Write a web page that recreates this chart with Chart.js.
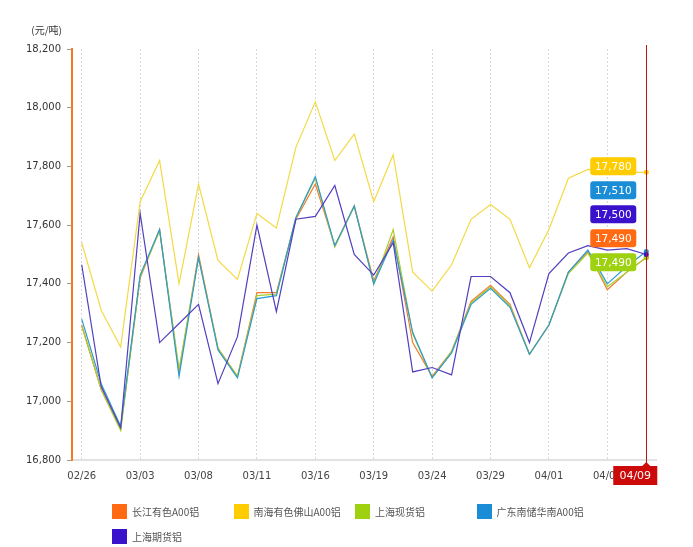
<!DOCTYPE html>
<html>
<head>
<meta charset="utf-8">
<script src="https://cdn.jsdelivr.net/npm/chart.js@4/dist/chart.umd.min.js"></script>
<style>
  body { margin: 0; background: #fff; }
  #wrap { position: relative; width: 693px; height: 547px; }
  #legend { position: absolute; left: 112px; top: 499px; width: 500px; font-family: "Noto Sans CJK SC", sans-serif; font-size: 10px; color: #555; }
  #legend .item { display: inline-flex; align-items: center; width: 121.5px; height: 25px; vertical-align: top; }
  #legend .box { width: 15px; height: 15px; margin-right: 5px; }
</style>
</head>
<body>
<div id="wrap">
  <canvas id="myChart"></canvas>
  <div id="legend"></div>
</div>
<script>
const dates = ['02/26', '02/27', '02/28', '03/03', '03/04', '03/06', '03/08', '03/09', '03/10', '03/11',
               '03/12', '03/14', '03/16', '03/17', '03/18', '03/19', '03/20', '03/22', '03/24', '03/25',
               '03/27', '03/29', '03/30', '03/31', '04/01', '04/02', '04/04', '04/06', '04/08', '04/09'];

const changjiang = [17260, 17040, 16905, 17420, 17585, 17100, 17500, 17180, 17085, 17370,
                    17370, 17620, 17740, 17530, 17665, 17410, 17560, 17200, 17085, 17170,
                    17340, 17395, 17330, 17160, 17260, 17440, 17510, 17380, 17440, 17490];
const nanhai = [17540, 17310, 17185, 17680, 17820, 17400, 17740, 17480, 17415, 17640,
                17590, 17865, 18020, 17820, 17910, 17680, 17840, 17440, 17375, 17465,
                17620, 17670, 17620, 17455, 17585, 17760, 17790, 17780, 17780, 17780];
const shSpot = [17255, 17040, 16900, 17425, 17580, 17110, 17490, 17180, 17085, 17360,
                17365, 17625, 17760, 17525, 17665, 17400, 17585, 17230, 17080, 17170,
                17335, 17390, 17325, 17160, 17260, 17435, 17505, 17390, 17440, 17490];
const guangdong = [17280, 17060, 16915, 17430, 17585, 17085, 17490, 17175, 17080, 17350,
                   17360, 17625, 17765, 17530, 17665, 17400, 17550, 17235, 17080, 17165,
                   17330, 17385, 17320, 17160, 17260, 17440, 17515, 17400, 17460, 17510];
const shFutures = [17465, 17050, 16910, 17640, 17200, 17265, 17330, 17060, 17220, 17600,
                   17305, 17620, 17630, 17735, 17500, 17430, 17540, 17100, 17115, 17090,
                   17425, 17425, 17370, 17200, 17435, 17505, 17530, 17515, 17520, 17500];

const seriesNames = ['长江有色A00铝', '南海有色佛山A00铝', '上海现货铝', '广东南储华南A00铝', '上海期货铝'];
const yTicks = [16800, 17000, 17200, 17400, 17600, 17800, 18000, 18200];

const colors = ['#FF6A13', '#FFCC00', '#9ED10F', '#1A8DD6', '#3A12CC'];
const lineColors = ['#F47A30', '#F3DA45', '#A8D030', '#2E9BD0', '#5040C0'];
const allData = [changjiang, nanhai, shSpot, guangdong, shFutures];
const drawOrder = [4, 5, 3, 2, 1];
const last = dates.length - 1;

const datasets = seriesNames.map((name, i) => ({
    label: name,
    data: allData[i],
    borderColor: lineColors[i],
    backgroundColor: colors[i],
    borderWidth: 1.2,
    tension: 0,
    order: drawOrder[i],
    pointRadius: ctx => ctx.dataIndex === last ? 2.5 : 0,
    pointBorderWidth: 0,
    pointBackgroundColor: colors[i]
}));

function roundRect(ctx, x, y, w, h, r) {
    ctx.beginPath();
    ctx.moveTo(x + r, y);
    ctx.arcTo(x + w, y, x + w, y + h, r);
    ctx.arcTo(x + w, y + h, x, y + h, r);
    ctx.arcTo(x, y + h, x, y, r);
    ctx.arcTo(x, y, x + w, y, r);
    ctx.closePath();
}

const overlay = {
    id: 'overlay',
    afterDraw(chart) {
        const ctx = chart.ctx;
        const area = chart.chartArea;
        const xs = chart.scales.x, ys = chart.scales.y;
        const px = xs.getPixelForValue(last);

        // unit
        ctx.save();
        ctx.font = '10px "Noto Sans CJK SC"';
        ctx.fillStyle = '#333';
        ctx.textAlign = 'right';
        ctx.textBaseline = 'middle';
        ctx.fillText('(元/吨)', 62, 30);

        // crosshair line
        ctx.strokeStyle = '#B81414';
        ctx.lineWidth = 1;
        ctx.beginPath();
        ctx.moveTo(Math.round(px) + 0.5, area.top - 4);
        ctx.lineTo(Math.round(px) + 0.5, area.bottom + 3);
        ctx.stroke();

        // date box
        const bx = px - 33, by = area.bottom + 6, bw = 44, bh = 19;
        ctx.fillStyle = '#CC0A0A';
        ctx.fillRect(bx, by, bw, bh);
        ctx.beginPath();
        ctx.moveTo(px - 4, by);
        ctx.lineTo(px, by - 4);
        ctx.lineTo(px + 4, by);
        ctx.fill();
        ctx.fillStyle = '#fff';
        ctx.font = '11px "DejaVu Sans"';
        ctx.textAlign = 'center';
        ctx.fillText(dates[last], bx + bw / 2, by + bh / 2 + 1);

        // value labels
        const items = allData.map((d, i) => ({ v: d[last], i }))
            .sort((a, b) => b.v - a.v || a.i - b.i);
        const top = ys.getPixelForValue(items[0].v) - 6;
        ctx.font = '10.5px "DejaVu Sans"';
        items.forEach((it, k) => {
            const cy = top + k * 24;
            ctx.fillStyle = colors[it.i];
            roundRect(ctx, px - 56, cy - 9, 46, 18, 3);
            ctx.fill();
            ctx.fillStyle = '#fff';
            ctx.fillText(it.v.toLocaleString('en-US'), px - 33, cy + 1);
        });
        ctx.restore();
    }
};

const ctx1 = document.getElementById('myChart').getContext('2d');
const myChart = new Chart(ctx1, {
    type: 'line',
    data: {
        labels: dates,
        datasets: datasets
    },
    options: {
        responsive: true,
        maintainAspectRatio: false,
        animation: false,
        layout: {
            padding: { top: 49, right: 37, left: 0, bottom: 0 }
        },
        scales: {
            x: {
                offset: true,
                afterFit: scale => { scale.height = 87; },
                ticks: {
                    autoSkip: false,
                    maxRotation: 0,
                    padding: 10,
                    color: '#444',
                    font: { family: 'DejaVu Sans', size: 10 },
                    callback: function(value, index) {
                        return (index % 3 === 0 && index < last) ? dates[index] : '';
                    }
                },
                grid: {
                    drawTicks: false,
                    color: ctx => (ctx.index % 3 === 0 && ctx.index < last) ? '#d8d8d8' : 'rgba(0,0,0,0)'
                },
                border: {
                    color: '#e2e2e2',
                    width: 2,
                    dash: [2, 2]
                }
            },
            y: {
                min: 16800,
                max: 18200,
                afterFit: scale => { scale.width = 72; },
                afterBuildTicks: scale => { scale.ticks = yTicks.map(v => ({ value: v })); },
                ticks: {
                    padding: 6,
                    color: '#333',
                    font: { family: 'DejaVu Sans', size: 10 },
                    callback: value => value.toLocaleString('en-US')
                },
                grid: {
                    drawOnChartArea: false,
                    tickLength: 5,
                    color: '#999'
                },
                border: {
                    color: '#F57A22',
                    width: 2
                }
            }
        },
        plugins: {
            legend: { display: false },
            tooltip: { enabled: false }
        }
    },
    plugins: [overlay]
});

const legendEl = document.getElementById('legend');
seriesNames.forEach((name, i) => {
    const item = document.createElement('span');
    item.className = 'item';
    item.innerHTML = '<span class="box" style="background:' + colors[i] + '"></span>' + name;
    legendEl.appendChild(item);
});
</script>
</body>
</html>
